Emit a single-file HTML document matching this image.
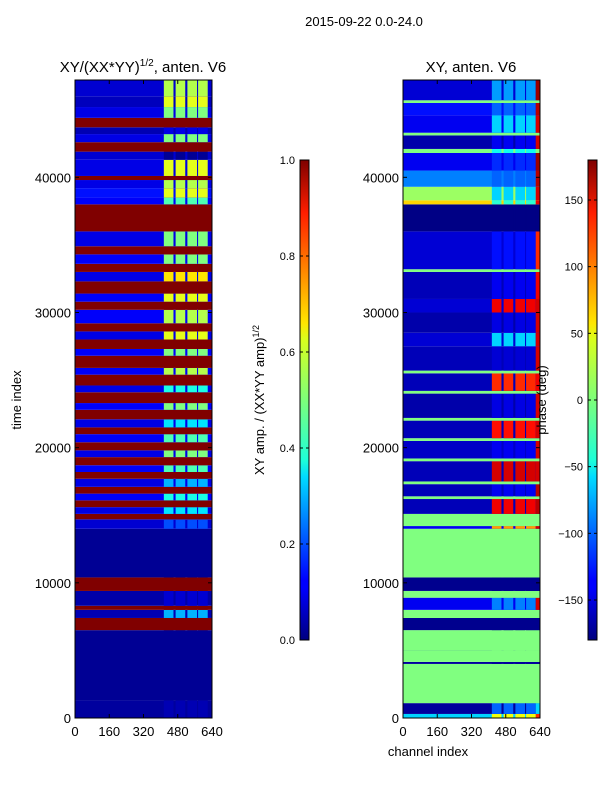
<!DOCTYPE html>
<html><head><meta charset="utf-8"><style>
html,body{margin:0;padding:0;background:#fff;}
svg{display:block;font-family:"Liberation Sans",sans-serif;}
</style></head><body>
<svg id="fig" width="600" height="800" viewBox="0 0 600 800">
<defs>
<linearGradient id="jet" x1="0" y1="1" x2="0" y2="0">
<stop offset="0" stop-color="#00007f"/><stop offset="0.11" stop-color="#0000ff"/><stop offset="0.125" stop-color="#0000ff"/>
<stop offset="0.34" stop-color="#00dbff"/><stop offset="0.375" stop-color="#1effd8"/><stop offset="0.5" stop-color="#7dff7a"/>
<stop offset="0.625" stop-color="#d8ff1e"/><stop offset="0.66" stop-color="#ffe600"/><stop offset="0.89" stop-color="#ff1e00"/>
<stop offset="1" stop-color="#7f0000"/></linearGradient>
</defs>
<text x="364" y="26" font-size="13" text-anchor="middle">2015-09-22 0.0-24.0</text>
<text x="143" y="72" font-size="15" text-anchor="middle">XY/(XX*YY)<tspan font-size="10" dy="-6">1/2</tspan><tspan dy="6">, anten. V6</tspan></text>
<text x="471" y="72" font-size="15" text-anchor="middle">XY, anten. V6</text>
<text transform="translate(21,400) rotate(-90)" font-size="13" text-anchor="middle">time index</text>
<text x="428" y="756" font-size="13" text-anchor="middle">channel index</text>
<text transform="translate(264,400) rotate(-90)" font-size="13" text-anchor="middle">XY amp. / (XX*YY amp)<tspan font-size="9" dy="-5">1/2</tspan></text>
<g id="left"></g>
<g id="right"></g>
<g id="cbars"></g>
<text transform="translate(546,400) rotate(-90)" font-size="13" text-anchor="middle">phase (deg)</text>
</svg>
<script>
const tMax = 47200;
const channelTicks = [0,160,320,480,640];
const timeTicks = [0,10000,20000,30000,40000];
const ampTicks = [0.0,0.2,0.4,0.6,0.8,1.0];
const phaseTicks = [-150,-100,-50,0,50,100,150];
const stripeCols = [[415,460],[470,515],[525,570],[575,620]];
// left plot bands: [t0, t1, baseValue, stripeValue]
const leftBands = [
[0,1300,0.03,0.05],[1300,6500,0.02,0.02],[6500,7400,1.0,1.0],[7400,8000,0.05,0.3],[8000,8300,1.0,1.0],
[8300,9400,0.04,0.08],[9400,10400,1.0,1.0],[10400,14000,0.02,0.02],[14000,14700,0.08,0.2],
[14700,15100,1.0,1.0],[15100,15600,0.1,0.35],[15600,16100,1.0,1.0],[16100,16600,0.12,0.4],[16600,17100,1.0,1.0],
[17100,17700,0.1,0.3],[17700,18200,1.0,1.0],[18200,18700,0.12,0.45],[18700,19300,1.0,1.0],[19300,19800,0.1,0.5],
[19800,20400,1.0,1.0],[20400,21000,0.12,0.45],[21000,21500,1.0,1.0],[21500,22100,0.1,0.35],[22100,22800,1.0,1.0],
[22800,23300,0.12,0.5],[23300,24100,1.0,1.0],[24100,24600,0.1,0.4],[24600,25400,1.0,1.0],[25400,25900,0.12,0.55],
[25900,26800,1.0,1.0],[26800,27300,0.12,0.5],[27300,28000,1.0,1.0],[28000,28600,0.1,0.6],[28600,29200,1.0,1.0],
[29200,30200,0.12,0.55],[30200,30800,1.0,1.0],[30800,31400,0.12,0.6],[31400,32300,1.0,1.0],[32300,33000,0.1,0.65],
[33000,33600,1.0,1.0],[33600,34300,0.12,0.5],[34300,34900,1.0,1.0],[34900,36000,0.1,0.5],[36000,38000,1.0,1.0],
[38000,38500,0.12,0.45],[38500,39200,0.14,0.6],[39200,39800,0.1,0.55],[39800,40100,1.0,1.0],[40100,41300,0.1,0.6],
[41300,41900,0.08,0.02],[41900,42600,1.0,1.0],[42600,43200,0.1,0.5],[43200,43700,0.05,0.1],[43700,44400,1.0,1.0],
[44400,45200,0.1,0.5],[45200,46000,0.06,0.6],[46000,47200,0.08,0.55]];
// right plot bands: [t0, t1, baseDeg, stripeDeg, edgeDeg]
const rightBands = [
[0,300,-60,40,120],[300,1100,-170,-100,-60],[1100,4000,0,0,0],[4000,4150,-170,-170,-170],[4150,5000,0,0,0],
[5000,5150,-170,-170,-170],[5000,6500,0,0,0],[6500,7400,-175,-175,-175],
[7400,8000,0,0,0],[8000,8900,-140,-90,150],[8900,9400,0,0,0],[9400,10400,-175,-175,-175],[10400,14000,0,0,0],[14000,14200,-140,80,150],
[14200,15100,0,0,0],[15100,16200,-160,140,160],[16200,16400,0,0,0],[16400,17300,-160,-140,160],[17300,17500,0,0,0],
[17500,19000,-160,150,150],[19000,19200,0,0,0],[19200,20500,-155,-140,150],[20500,20700,0,0,0],[20700,22000,-160,130,150],
[22000,22200,0,0,0],[22200,24000,-165,-145,150],[24000,24200,0,0,0],[24200,25500,-160,120,140],[25500,25700,0,0,0],
[25700,27500,-160,-150,150],[27500,28500,-150,-60,150],[28500,30000,-165,-145,150],[30000,31000,-150,140,150],
[31000,33000,-160,-140,140],[33000,33200,0,0,0],[33200,36000,-150,-130,120],[36000,38000,-178,-178,-178],
[38000,38300,60,-30,140],[38300,39300,10,-60,150],[39300,40500,-90,-100,160],[40500,41800,-140,-120,170],[41800,42100,0,-40,0],
[42100,43100,-165,-140,150],[43100,43300,0,0,0],[43300,44600,-140,-60,150],[44600,45500,-130,-100,160],[45500,45700,0,0,0],
[45700,47200,-150,-80,170]];

const NS='http://www.w3.org/2000/svg';
function jet(v){v=Math.max(0,Math.min(1,v));const c=x=>Math.round(255*Math.max(0,Math.min(1,1.5-Math.abs(4*v-x))));return `rgb(${c(3)},${c(2)},${c(1)})`;}
function mk(tag,attrs,parent){const e=document.createElementNS(NS,tag);for(const k in attrs)e.setAttribute(k,attrs[k]);parent.appendChild(e);return e;}
const Y0=718,Y1=80;
const yS=t=>Y0-(t/tMax)*(Y0-Y1);
function drawPlot(gid,x0,x1,bands,norm,prefix){
  const g=document.getElementById(gid);
  const xS=c=>x0+(c/640)*(x1-x0);
  bands.forEach((b,i)=>{
    const yt=yS(b[1]),yb=yS(b[0]);
    const base=mk('rect',{x:xS(0),y:yt,width:xS(640)-xS(0),height:yb-yt,fill:jet(norm(b[2]))},g);
    
    
    stripeCols.forEach((sc,j)=>{
      const r=mk('rect',{x:xS(sc[0]),y:yt,width:xS(sc[1])-xS(sc[0]),height:yb-yt,fill:jet(norm(b[3]))},g);
      
      
    });
    if(b.length>4){
      const e=mk('rect',{x:xS(620),y:yt,width:xS(640)-xS(620),height:yb-yt,fill:jet(norm(b[4]))},g);
      
      
    }
  });
  const fr=mk('rect',{x:x0,y:Y1,width:x1-x0,height:Y0-Y1,fill:'none',stroke:'#000','stroke-width':1},g);
  
  
  channelTicks.forEach(c=>{
    const x=xS(c);
    mk('line',{x1:x,x2:x,y1:Y0,y2:Y0-4,stroke:'#000'},g);
    mk('line',{x1:x,x2:x,y1:Y1,y2:Y1+4,stroke:'#000'},g);
    const t=mk('text',{x:x,y:Y0+18,'font-size':13,'text-anchor':'middle'},g);t.textContent=c;
    
    
  });
  timeTicks.forEach(v=>{
    const y=yS(v);
    mk('line',{x1:x0,x2:x0+4,y1:y,y2:y,stroke:'#000'},g);
    mk('line',{x1:x1,x2:x1-4,y1:y,y2:y,stroke:'#000'},g);
    const t=mk('text',{x:x0-4,y:y+5,'font-size':13,'text-anchor':'end'},g);t.textContent=v;
    
    
  });
}
drawPlot('left',75,212,leftBands,v=>v,'left');
drawPlot('right',403,540,rightBands,d=>(d+180)/360,'right');
function drawCbar(x,ticks,lo,hi,name){
  const g=document.getElementById('cbars');
  const top=160,bot=640,w=9;
  const r=mk('rect',{x:x,y:top,width:w,height:bot-top,fill:'url(#jet)',stroke:'#000','stroke-width':1},g);
  
  
  ticks.forEach(v=>{
    const y=bot-(v-lo)/(hi-lo)*(bot-top);
    mk('line',{x1:x,x2:x+3,y1:y,y2:y,stroke:'#000'},g);
    mk('line',{x1:x+w-3,x2:x+w,y1:y,y2:y,stroke:'#000'},g);
    const t=mk('text',{x:x-5,y:y+4,'font-size':11,'text-anchor':'end'},g);
    t.textContent=(name==='left-colorbar')?v.toFixed(1):(v<0?'\u2212'+(-v):v);
    
    
  });
}
drawCbar(300,ampTicks,0,1,'left-colorbar');
drawCbar(588,phaseTicks,-180,180,'right-colorbar');
</script>
</body></html>
